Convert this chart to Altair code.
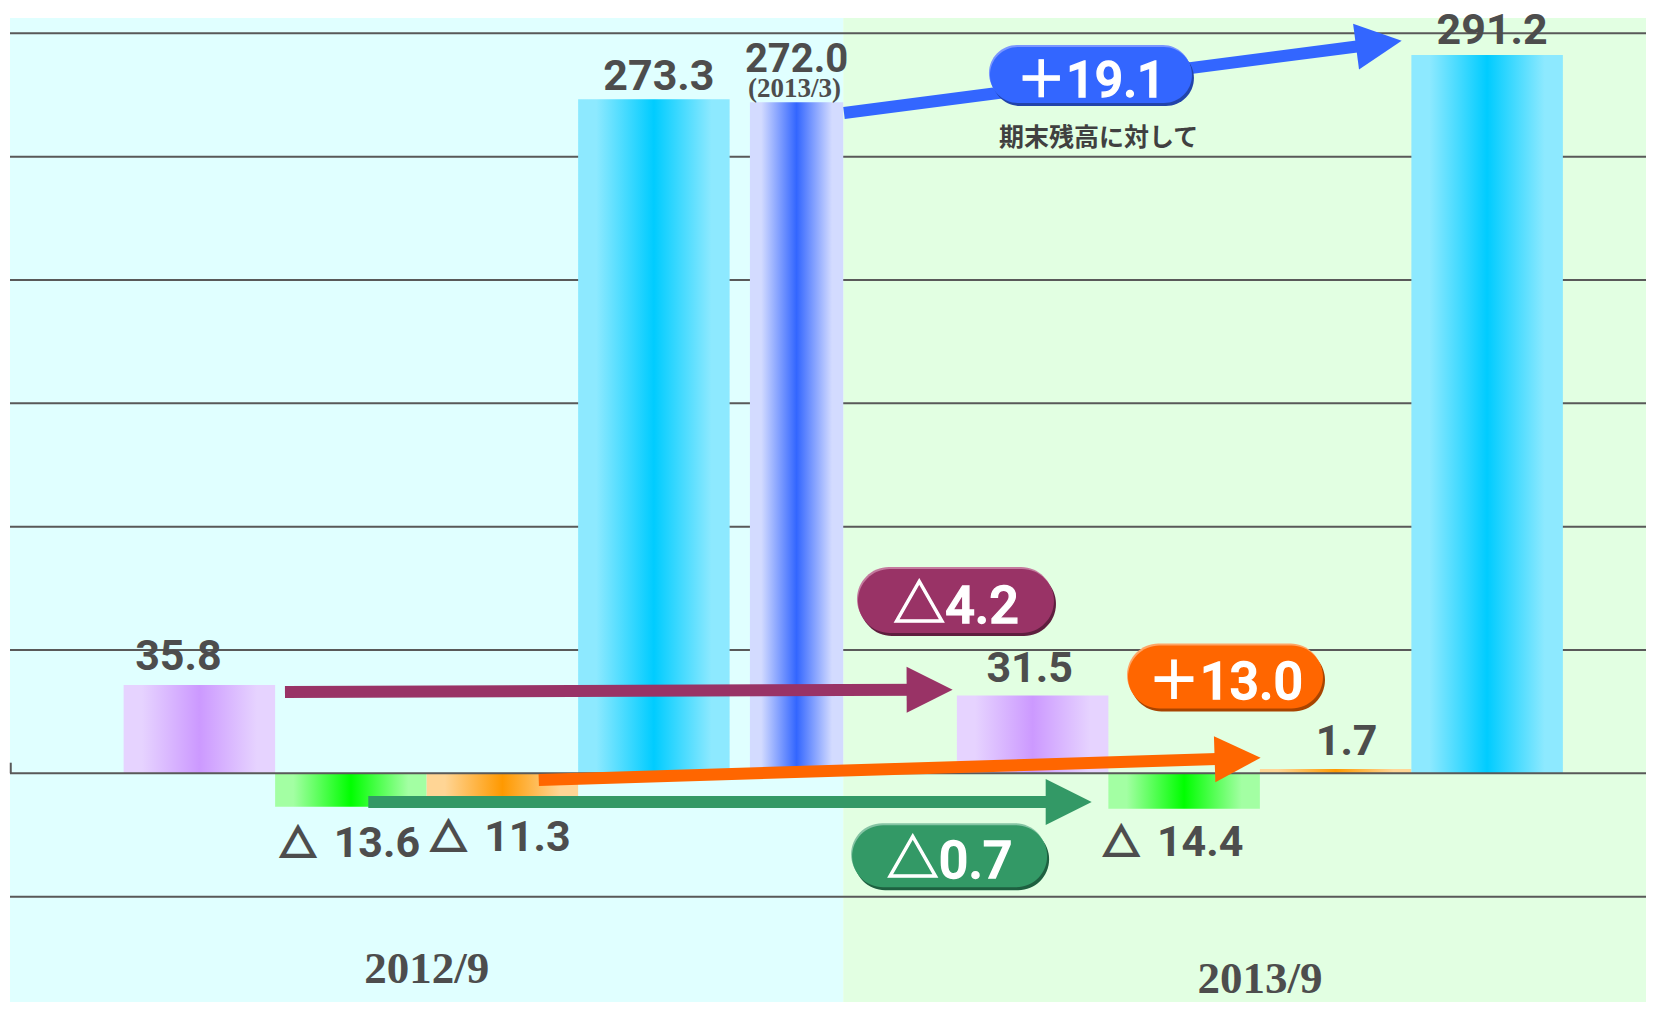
import math
import altair as alt
import pandas as pd

# ---------------- data ----------------
categories = ["2012/9", "2013/9"]
series_names = ["purple", "green", "orange", "cyan"]
values_2012 = [35.8, -13.6, -11.3, 273.3]
values_2013 = [31.5, -14.4, 1.7, 291.2]
labels_2012 = ["35.8", "△ 13.6", "△ 11.3", "273.3"]
labels_2013 = ["31.5", "△ 14.4", "1.7", "291.2"]
ref_value = 272.0
ref_label = "272.0"
ref_sublabel = "(2013/3)"
change_labels = ["＋19.1", "△4.2", "＋13.0", "△0.7"]
note_text = "期末残高に対して"
grid_values = [-50, 0, 50, 100, 150, 200, 250, 300]

# ---------------- layout ----------------
PXX = 151.5          # px per bar-width unit
PXY = 2.4667         # px per value unit
BAND = 5.5           # category band (4 bars + 150% gap)
GAP = 0.75
W = 1636
H = 984
X_MAX = W / PXX
Y_TOP = 306.2
Y_BOT = Y_TOP - H / PXY

GRAD = {
    "purple": ("#E6D3FF", "#CC99FF"),
    "green": ("#A3FFA3", "#00FF00"),
    "orange": ("#FFD595", "#FF9900"),
    "cyan": ("#8DE9FF", "#00CCFF"),
    "blue": ("#D3DBFF", "#3366FF"),
}
# label offsets in px (dx, dy of baseline from bar end)
label_off_2012 = [(-21, -15), (-1, 50), (-2, 50), (5, -9)]
label_off_2013 = [(-3, -14), (-11, 47), (11, -14), (5, -11)]
TRI_SHIFT, NUM_SHIFT = -52, 27
cat_label_y = [-85.1, -88.9]

# annotation arrows in data units: start x, start y, tip x, tip y, colour
arrows = [
    (1.815, 33.0, 6.222, 33.9, "#993366"),
    (2.365, -11.6, 7.140, -11.6, "#339966"),
    (3.490, -2.7, 8.255, 6.3, "#FF6600"),
    (5.505, 267.7, 9.186, 297.0, "#3366FF"),
]
# pills: centre x, centre y (data), width px, height px, main, light, dark, font size
pills = [
    (7.135, 283.1, 202, 56, "#3366FF", "#7A96FF", "#2244AA", 50),
    (6.244, 69.85, 196, 64, "#993366", "#C47A9E", "#5E1E3E", 52),
    (8.023, 39.05, 195, 63, "#FF6600", "#FFA566", "#A84400", 52),
    (6.202, -33.6, 195, 62, "#339966", "#85C4A4", "#1E6040", 52),
]
note_pos = (7.185, 254.4)

LABEL_FONT = "Roboto, 'Noto Sans CJK JP', sans-serif"
DARK = "#4D4D4D"

xs = alt.Scale(domain=[0, X_MAX], nice=False, zero=False)
ys = alt.Scale(domain=[Y_BOT, Y_TOP], nice=False, zero=False)


def X(f):
    return alt.X(f, type="quantitative", scale=xs, axis=None)


def Y(f):
    return alt.Y(f, type="quantitative", scale=ys, axis=None)


def grad(light, dark):
    return alt.LinearGradient(
        gradient="linear", x1=0, y1=0, x2=1, y2=0,
        stops=[alt.GradientStop(color=light, offset=0),
               alt.GradientStop(color=light, offset=0.12),
               alt.GradientStop(color=dark, offset=0.5),
               alt.GradientStop(color=light, offset=0.88),
               alt.GradientStop(color=light, offset=1)])


layers = []

# backgrounds
bg = pd.DataFrame({
    "x0": [0, BAND], "x1": [BAND, X_MAX],
    "y0": [Y_BOT, Y_BOT], "y1": [Y_TOP, Y_TOP],
    "c": ["#E0FFFF", "#E2FFE2"],
})
layers.append(alt.Chart(bg).mark_rect().encode(
    x=X("x0"), x2="x1", y=Y("y0"), y2="y1",
    color=alt.Color("c:N", scale=None)))

# gridlines (except zero)
gdf = pd.DataFrame({"v": [g for g in grid_values if g != 0], "x0": 0.0, "x1": X_MAX})
layers.append(alt.Chart(gdf).mark_rule(color="#595959", strokeWidth=2).encode(
    y=Y("v"), x=X("x0"), x2="x1"))

# bars
rows = []
for c, vals in enumerate([values_2012, values_2013]):
    for s, v in enumerate(vals):
        x0 = c * BAND + GAP + s
        rows.append(dict(series=series_names[s], x0=x0, x1=x0 + 1, y0=0.0, y1=v))
bars_df = pd.DataFrame(rows)
for name in series_names:
    layers.append(alt.Chart(bars_df[bars_df.series == name]).mark_rect(
        color=grad(*GRAD[name])).encode(x=X("x0"), x2="x1", y=Y("y0"), y2="y1"))

ref_df = pd.DataFrame({"x0": [BAND - 0.616], "x1": [BAND], "y0": [0.0], "y1": [ref_value]})
layers.append(alt.Chart(ref_df).mark_rect(color=grad(*GRAD["blue"])).encode(
    x=X("x0"), x2="x1", y=Y("y0"), y2="y1"))

# zero line and small axis stub
zdf = pd.DataFrame({"v": [0.0], "x0": [0.0], "x1": [X_MAX]})
layers.append(alt.Chart(zdf).mark_rule(color="#595959", strokeWidth=2).encode(
    y=Y("v"), x=X("x0"), x2="x1"))
sdf = pd.DataFrame({"x": [0.005], "y0": [0.0], "y1": [4.3]})
layers.append(alt.Chart(sdf).mark_rule(color="#595959", strokeWidth=2).encode(
    x=X("x"), y=Y("y0"), y2="y1"))

# arrows
HEAD = 46
shaft_rows, head_rows = [], []
for (x0, y0, x1, y1, col) in arrows:
    dxp = (x1 - x0) * PXX
    dyp = -(y1 - y0) * PXY
    L = math.hypot(dxp, dyp)
    ux, uy = dxp / L, dyp / L
    ex = x1 - ux * HEAD * 0.6 / PXX
    ey = y1 + uy * HEAD * 0.6 / PXY
    shaft_rows.append(dict(x0=x0, y0=y0, x1=ex, y1=ey, c=col))
    cx = x1 - ux * HEAD / 2 / PXX
    cy = y1 + uy * HEAD / 2 / PXY
    ang = math.degrees(math.atan2(dyp, dxp)) % 360
    head_rows.append(dict(x=cx, y=cy, a=ang, c=col))
layers.append(alt.Chart(pd.DataFrame(shaft_rows)).mark_rule(
    strokeWidth=12, strokeCap="butt").encode(
    x=X("x0"), y=Y("y0"), x2="x1", y2="y1", color=alt.Color("c:N", scale=None)))
layers.append(alt.Chart(pd.DataFrame(head_rows)).mark_point(
    shape="M-1,-1L1,0L-1,1Z", filled=True, opacity=1, size=HEAD * HEAD, strokeWidth=0).encode(
    x=X("x"), y=Y("y"), angle=alt.Angle("a:Q", scale=None),
    color=alt.Color("c:N", scale=None)))

# pills
for (cx, cy, wpx, hpx, main, light, dark, fs), txt in zip(pills, change_labels):
    hw, hh = wpx / 2 / PXX, hpx / 2 / PXY
    pdf = pd.DataFrame({"x0": [cx - hw], "x1": [cx + hw], "y0": [cy - hh], "y1": [cy + hh],
                        "xc": [cx], "yc": [cy], "t": [txt]})
    for colr, ox, oy in [(dark, 2, 3), (light, -1, -2), (main, 0, 0)]:
        layers.append(alt.Chart(pdf).mark_rect(
            color=colr, cornerRadius=hpx / 2, xOffset=ox, x2Offset=ox,
            yOffset=oy, y2Offset=oy).encode(x=X("x0"), x2="x1", y=Y("y0"), y2="y1"))
    layers.append(alt.Chart(pdf).mark_text(
        font=LABEL_FONT, fontSize=fs, fontWeight=500, fill="white", stroke="white",
        strokeWidth=1.3, align="center", baseline="alphabetic", dy=22).encode(
        x=X("xc"), y=Y("yc"), text="t:N"))

# note
ndf = pd.DataFrame({"x": [note_pos[0]], "y": [note_pos[1]], "t": [note_text]})
layers.append(alt.Chart(ndf).mark_text(
    font="'Noto Sans CJK JP', sans-serif", fontSize=25, fontWeight="bold",
    color="#404040", align="center", baseline="alphabetic").encode(
    x=X("x"), y=Y("y"), text="t:N"))

# value labels (the △ sign is set as its own text so it can be drawn heavier)
num_rows, tri_rows = [], []
for c, (vals, labs, offs) in enumerate([(values_2012, labels_2012, label_off_2012),
                                        (values_2013, labels_2013, label_off_2013)]):
    for s, (v, t, (ox, oy)) in enumerate(zip(vals, labs, offs)):
        xc = c * BAND + GAP + s + 0.5
        bx, by = xc + ox / PXX, v - oy / PXY
        if t.startswith("△"):
            tri, num = t.split(" ", 1)
            tri_rows.append(dict(x=bx + TRI_SHIFT / PXX, y=by, t=tri))
            num_rows.append(dict(x=bx + NUM_SHIFT / PXX, y=by, t=num))
        else:
            num_rows.append(dict(x=bx, y=by, t=t))
layers.append(alt.Chart(pd.DataFrame(num_rows)).mark_text(
    font=LABEL_FONT, fontSize=43, fontWeight="bold",
    color=DARK, align="center", baseline="alphabetic").encode(
    x=X("x"), y=Y("y"), text="t:N"))
layers.append(alt.Chart(pd.DataFrame(tri_rows)).mark_text(
    font="'Noto Sans CJK JP', sans-serif", fontSize=36, fontWeight="bold",
    fill=DARK, stroke=DARK, strokeWidth=2.6, align="center", baseline="alphabetic").encode(
    x=X("x"), y=Y("y"), text="t:N"))

rxc = BAND - 0.308
rdf = pd.DataFrame({"x": [rxc, rxc - 2 / PXX], "y": [ref_value + 30 / PXY, ref_value + 5 / PXY],
                    "t": [ref_label, ref_sublabel]})
layers.append(alt.Chart(rdf.iloc[[0]]).mark_text(
    font="Roboto, sans-serif", fontSize=40, fontWeight="bold",
    color=DARK, align="center", baseline="alphabetic").encode(
    x=X("x"), y=Y("y"), text="t:N"))
layers.append(alt.Chart(rdf.iloc[[1]]).mark_text(
    font="'Liberation Serif', serif", fontSize=27, fontWeight="bold",
    color=DARK, align="center", baseline="alphabetic").encode(
    x=X("x"), y=Y("y"), text="t:N"))

# category labels
cdf = pd.DataFrame({"x": [c * BAND + GAP + 2 for c in range(len(categories))],
                    "y": cat_label_y, "t": categories})
layers.append(alt.Chart(cdf).mark_text(
    font="'Liberation Serif', serif", fontSize=45, fontWeight="bold",
    color=DARK, align="center", baseline="alphabetic").encode(
    x=X("x"), y=Y("y"), text="t:N"))

chart = alt.layer(*layers).properties(
    width=W, height=H,
    padding={"left": 2, "top": 10, "right": 0, "bottom": 0},
    autosize=alt.AutoSizeParams(type="none"),
    background="white",
).configure_view(stroke=None)

chart.save("out.html", embed_options={"renderer": "svg", "actions": False})
